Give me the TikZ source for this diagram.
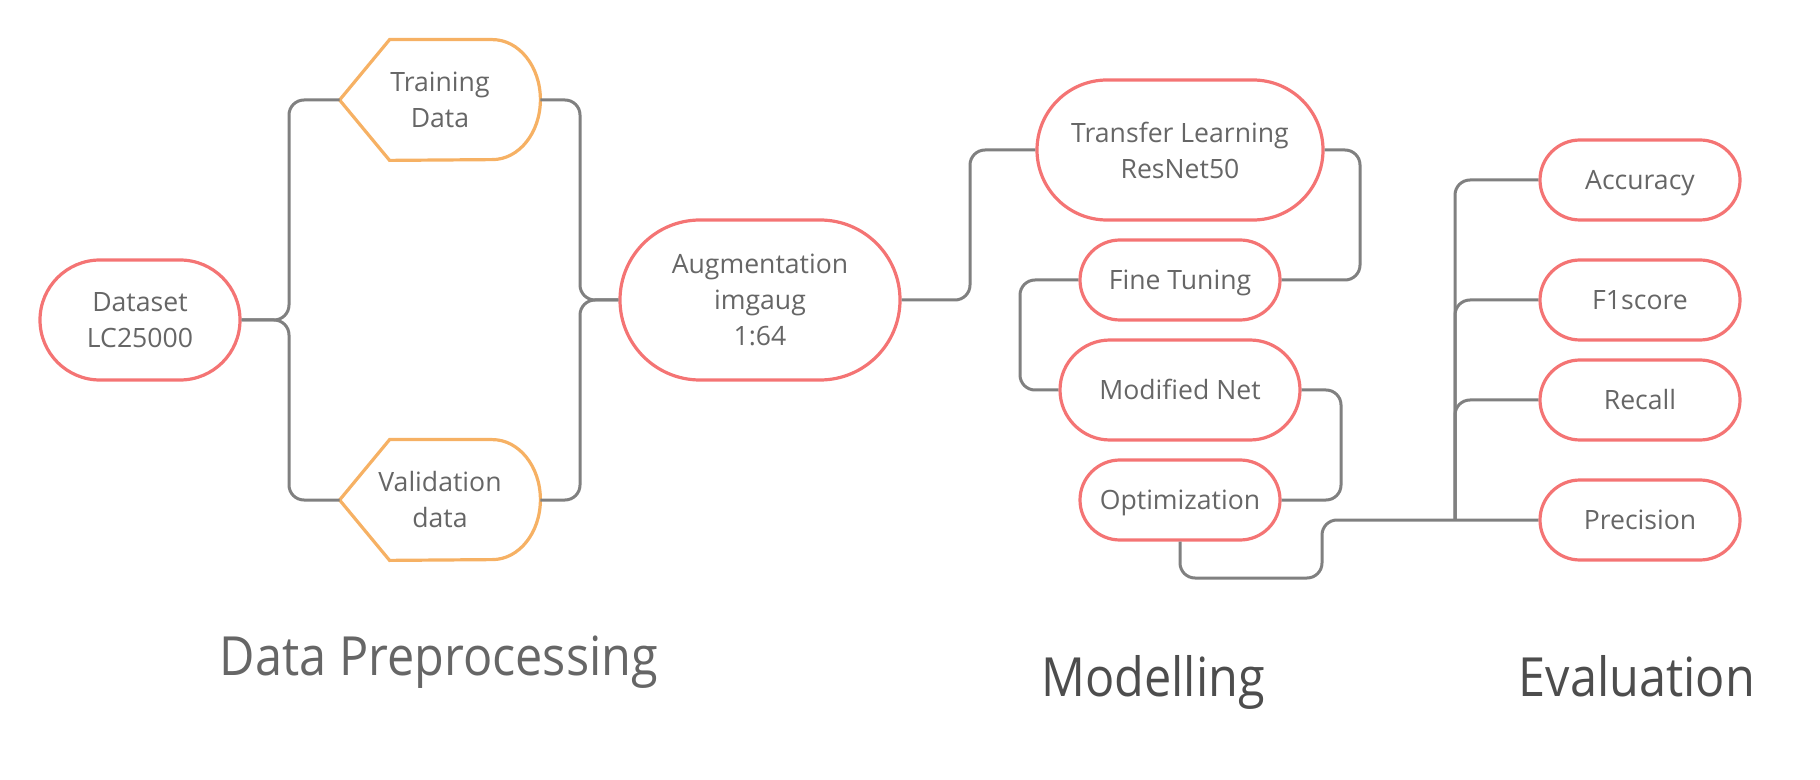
\documentclass[tikz,border=0pt]{standalone}
\usepackage{fontspec}
\setmainfont{Open Sans}
\newfontfamily\titlefont{Open Sans}[FakeStretch=0.9]
\usetikzlibrary{shapes.misc, calc, positioning}
\definecolor{mrouge}{HTML}{F47474}
\definecolor{morange}{HTML}{F6B164}
\definecolor{mgris}{HTML}{808080}
\definecolor{mtexte}{HTML}{666666}
\definecolor{mtitre}{HTML}{4D4D4D}
\tikzstyle{etape} = [rounded rectangle, draw = mrouge, line width = 1.6pt, text = mtexte, align = center, inner sep = 0pt, font = \fontsize{13.3}{18}\selectfont]
\tikzstyle{simple} = [etape, minimum width = 100pt, minimum height = 40pt, text height = 9.5pt, text depth = 0pt]
\tikzstyle{donnee} = [rectangle, text = mtexte, align = center, inner sep = 0pt, minimum width = 100pt, minimum height = 60pt, font = \fontsize{13.3}{18}\selectfont]
\tikzstyle{ligne} = [line width = 1.5pt, color = mgris, rounded corners = 7.5pt]
\tikzstyle{titre} = [anchor = base, font = \titlefont\fontsize{27}{32}\selectfont]

\begin{document}
\begin{tikzpicture}[x = 0.5pt, y = -0.5pt]
    	\useasboundingbox (0, 0) rectangle (1820, 780);
    	% Preparation des donnees
    	\node[etape, minimum width = 100pt, minimum height = 60pt] (ds) at (140, 320) {Dataset\\LC25000};
    	\node[donnee] (td) at (440, 100) {Training\\Data};
    	\node[donnee] (vd) at (440, 500) {Validation\\data};
    	\foreach \n in {td, vd}
          	\draw[morange, line width = 1.6pt] (\n.west) -- ($(\n.north west) + (50, 0)$) -- ($(\n.north east) + (-48, 0)$) arc[start angle = 90, end angle = -90, x radius = 24pt, y radius = 30pt] -- ($(\n.south west) + (50, 0)$) -- cycle;
    	\node[etape, minimum width = 140pt, minimum height = 80pt] (aug) at (760, 300) {Augmentation\\imgaug\\1:64};
    	% Modelisation
    	\node[etape, minimum width = 143pt, minimum height = 70pt] (tl) at (1180, 150) {Transfer Learning\\ResNet50};
    	\node[simple] (ft) at (1180, 280) {Fine Tuning};
    	\node[simple, minimum width = 120pt, minimum height = 50pt] (mn) at (1180, 390) {Modified Net};
    	\node[simple] (opt) at (1180, 500) {Optimization};
    	% Evaluation
    	\foreach \n/\y/\t in {acc/180/Accuracy, f1/300/F1score, rec/400/Recall, pr/520/Precision}
          	\node[simple] (\n) at (1640, \y) {\t};
    	% Liens
    	\draw[ligne] (ds.east) -- (289, 320) -- (289, 100) -- (td.west);
    	\draw[ligne] (ds.east) -- (289, 320) -- (289, 500) -- (vd.west);
    	\draw[ligne] (td.east) -- (580, 100) -- (580, 300) -- (aug.west);
    	\draw[ligne] (vd.east) -- (580, 500) -- (580, 300) -- (aug.west);
    	\draw[ligne] (aug.east) -- (970, 300) -- (970, 150) -- (tl.west);
    	\draw[ligne] (tl.east) -- (1360, 150) -- (1360, 280) -- (ft.east);
    	\draw[ligne] (ft.west) -- (1020, 280) -- (1020, 390) -- (mn.west);
    	\draw[ligne] (mn.east) -- (1341, 390) -- (1341, 500) -- (opt.east);
    	\draw[ligne] (opt.south) -- (1180, 578) -- (1322, 578) -- (1322, 520) -- (pr.west);
    	\coordinate (tronc) at (1455, 520);
    	\foreach \n in {acc, f1, rec}
          	\draw[ligne] (tronc) |- (\n.west);
    	% Titres
    	\node[titre, text = mtexte] (prep) at (439, 675) {Data Preprocessing};
    	\node[titre, text = mtitre] (model) at (1153, 696) {Modelling};
    	\node[titre, text = mtitre] (eval) at (1637, 696) {Evaluation};
    \end{tikzpicture}
\end{document}
